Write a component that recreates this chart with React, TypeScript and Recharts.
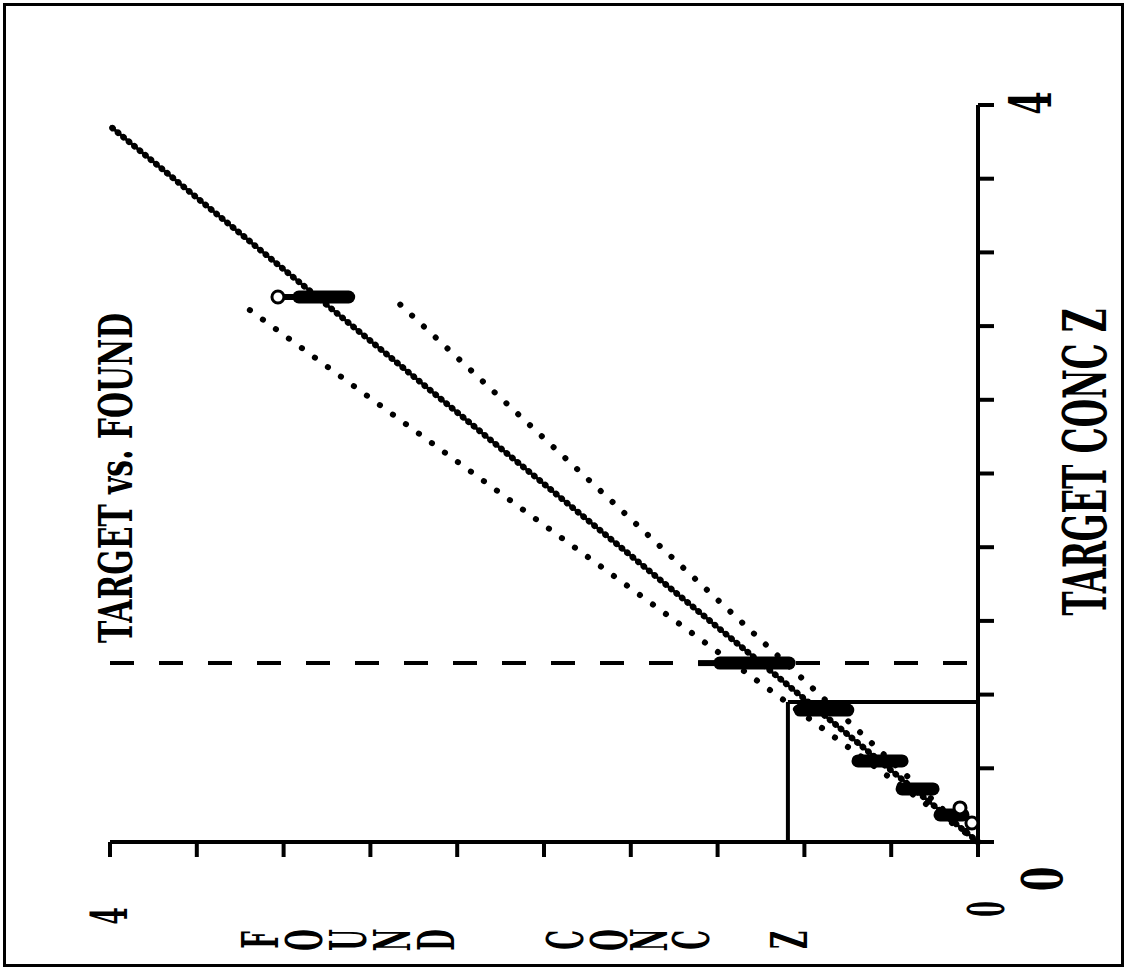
import { ComposedChart, Scatter, XAxis, YAxis, ReferenceLine } from 'recharts'

// axis ticks (both axes run 0..4 in steps of 0.4)
const axisTicks = [0, 0.4, 0.8, 1.2, 1.6, 2, 2.4, 2.8, 3.2, 3.6, 4]
const labelledTicks = [0, 4]

// regression line and tolerance bands (found vs target)
const fitLine = [
  { found: 0, target: 0 },
  { found: 4, target: 3.886 },
]
const upperBand = [
  { found: 0, target: 0 },
  { found: 3.4, target: 2.925 },
]
const lowerBand = [
  { found: 0, target: 0 },
  { found: 2.68, target: 2.936 },
]

// replicate clusters: target level, found range
const clusterTarget = [2.958, 0.971, 0.716, 0.44, 0.288, 0.147]
const clusterFoundHigh = [3.13, 1.19, 0.82, 0.553, 0.35, 0.175]
const clusterFoundLow = [2.9, 0.87, 0.6, 0.35, 0.207, 0.069]
// thin tails in front of the first two clusters
const tailTarget = [2.958, 0.971]
const tailFoundHigh = [3.226, 1.29]
const tailFoundLow = [3.13, 1.19]

// open points
const openPoints = [
  { found: 3.226, target: 2.958 },
  { found: 0.083, target: 0.185 },
  { found: 0.028, target: 0.103 },
]
const originPoint = [{ found: 0, target: 0 }]

// limit lines
const limitTarget = 0.971
const boxFound = 0.876
const boxTarget = 0.76

const FONT = '"DejaVu Serif Condensed", "DejaVu Serif", serif'

const NoDot = () => <g />
const OpenDot = (p: any) => (
  <circle cx={p.cx} cy={p.cy} r={6} fill="#fff" stroke="#000" strokeWidth={3} />
)
const Cross = (p: any) => (
  <g stroke="#000" strokeWidth={4}>
    <line x1={p.cx - 15} y1={p.cy} x2={p.cx + 15} y2={p.cy} />
    <line x1={p.cx} y1={p.cy - 14} x2={p.cx} y2={p.cy + 14} />
  </g>
)

function RotText({ x, y, text, size, sx = 1 }: { x: number; y: number; text: string; size: number; sx?: number }) {
  return (
    <text
      transform={`translate(${x},${y}) rotate(-90) scale(${sx},1)`}
      textAnchor="middle"
      dominantBaseline="central"
      fontFamily={FONT}
      fontWeight="bold"
      fontSize={size}
      fill="#000"
    >
      {text}
    </text>
  )
}

const FoundTick = (p: any) => {
  const v = p.payload.value
  if (!labelledTicks.includes(v)) return <g />
  return v === 0 ? (
    <RotText x={p.x + 8} y={p.y + 50} text="0" size={50} sx={0.5} />
  ) : (
    <RotText x={p.x} y={p.y + 57} text="4" size={50} sx={0.55} />
  )
}

const TargetTick = (p: any) => {
  const v = p.payload.value
  if (!labelledTicks.includes(v)) return <g />
  return v === 0 ? (
    <RotText x={p.x + 46} y={p.y + 37} text="0" size={56} sx={0.7} />
  ) : (
    <RotText x={p.x + 35} y={p.y - 2} text="4" size={57} sx={0.65} />
  )
}

const foundLetters = ['F', 'O', 'U', 'N', 'D', 'C', 'O', 'N', 'C', 'Z']
const foundLetterX = [261, 305, 349, 393, 437, 566, 610, 650, 692, 790]

export default function App() {
  const bandLine = { stroke: '#000', strokeWidth: 6, strokeDasharray: '0.1 16', strokeLinecap: 'round' }
  return (
    <div style={{ position: 'absolute', left: 0, top: 0, width: 1128, height: 973, background: '#fff' }}>
      <ComposedChart width={1128} height={973} margin={{ top: 105, right: 0, bottom: 0, left: 110 }}>
        <XAxis
          type="number"
          dataKey="found"
          domain={[0, 4]}
          reversed
          ticks={axisTicks}
          interval={0}
          height={131}
          tickSize={15}
          axisLine={{ stroke: '#000', strokeWidth: 4 }}
          tickLine={{ stroke: '#000', strokeWidth: 4 }}
          tick={<FoundTick />}
        />
        <YAxis
          type="number"
          dataKey="target"
          orientation="right"
          domain={[0, 4]}
          ticks={axisTicks}
          interval={0}
          width={150}
          tickSize={16}
          axisLine={{ stroke: '#000', strokeWidth: 4 }}
          tickLine={{ stroke: '#000', strokeWidth: 4 }}
          tick={<TargetTick />}
        />
        <ReferenceLine
          segment={[{ x: 4, y: limitTarget }, { x: 0.01, y: limitTarget }]}
          stroke="#000"
          strokeWidth={4}
          strokeDasharray="24 25"
        />
        <ReferenceLine
          segment={[{ x: boxFound, y: 0 }, { x: boxFound, y: boxTarget }]}
          stroke="#000"
          strokeWidth={4}
        />
        <ReferenceLine
          segment={[{ x: boxFound, y: boxTarget }, { x: 0, y: boxTarget }]}
          stroke="#000"
          strokeWidth={4}
        />
        <Scatter data={upperBand} line={bandLine} shape={<NoDot />} isAnimationActive={false} />
        <Scatter data={lowerBand} line={bandLine} shape={<NoDot />} isAnimationActive={false} />
        <Scatter data={fitLine} line={{ stroke: '#000', strokeWidth: 3 }} shape={<NoDot />} isAnimationActive={false} />
        <Scatter
          data={fitLine}
          line={{ stroke: '#000', strokeWidth: 6.5, strokeDasharray: '0.1 7', strokeLinecap: 'round' }}
          shape={<NoDot />}
          isAnimationActive={false}
        />
        {tailTarget.map((t, i) => (
          <Scatter
            key={'tail' + i}
            data={[{ found: tailFoundHigh[i], target: t }, { found: tailFoundLow[i], target: t }]}
            line={{ stroke: '#000', strokeWidth: 6 }}
            shape={<NoDot />}
            isAnimationActive={false}
          />
        ))}
        {clusterTarget.map((t, i) => (
          <Scatter
            key={'cl' + i}
            data={[{ found: clusterFoundHigh[i], target: t }, { found: clusterFoundLow[i], target: t }]}
            line={{ stroke: '#000', strokeWidth: 13, strokeLinecap: 'round' }}
            shape={<NoDot />}
            isAnimationActive={false}
          />
        ))}
        <Scatter data={openPoints} shape={<OpenDot />} isAnimationActive={false} />
        <Scatter data={originPoint} shape={<Cross />} isAnimationActive={false} />
      </ComposedChart>
      <svg width={1128} height={973} style={{ position: 'absolute', left: 0, top: 0, pointerEvents: 'none' }}>
        <rect x={4.5} y={4.5} width={1118} height={961} fill="none" stroke="#000" strokeWidth={3} />
        <text
          transform="translate(115,478) rotate(-90)"
          textAnchor="middle"
          dominantBaseline="central"
          fontFamily={FONT}
          fontWeight="bold"
          fontSize={47}
          textLength={330}
          lengthAdjust="spacingAndGlyphs"
        >
          TARGET vs. FOUND
        </text>
        <text
          transform="translate(1085,462) rotate(-90)"
          textAnchor="middle"
          dominantBaseline="central"
          fontFamily={FONT}
          fontWeight="bold"
          fontSize={60}
          textLength={307}
          lengthAdjust="spacingAndGlyphs"
        >
          TARGET CONC Z
        </text>
        {foundLetters.map((c, i) => (
          <RotText key={i} x={foundLetterX[i]} y={940} text={c} size={50} sx={0.55} />
        ))}
      </svg>
    </div>
  )
}
